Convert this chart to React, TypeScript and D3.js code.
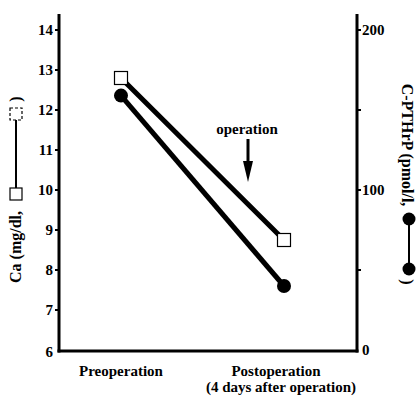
import React from "react";
import * as d3 from "d3";

const categories = ["Preoperation", "Postoperation"];
const caValues = [12.8, 8.75];
const pthrpValues = [159, 40];
const caTicks = [6, 7, 8, 9, 10, 11, 12, 13, 14];
const pthrpTicks = [0, 50, 100, 150, 200];
const pthrpLabeled = [0, 100, 200];

export default function App() {
  const W = 417, H = 397;
  const xL = 59, xR = 357, yB = 351, yT = 14;
  const x = d3.scalePoint<string>().domain(categories).range([121, 284]);
  const yCa = d3.scaleLinear().domain([6, 14]).range([350, 30]);
  const yP = d3.scaleLinear().domain([0, 200]).range([350, 30]);
  const font = "'Liberation Serif', 'DejaVu Serif', serif";
  const fs = 15;
  const line = d3.line<[number, number]>();
  const caPts: [number, number][] = categories.map((c, i) => [x(c)!, yCa(caValues[i])]);
  const pPts: [number, number][] = categories.map((c, i) => [x(c)!, yP(pthrpValues[i])]);
  return (
    <svg width={W} height={H} style={{ position: "absolute", left: 0, top: 0 }} fontFamily={font}>
      <rect width={W} height={H} fill="#fff" />
      {/* axes */}
      <line x1={xL} x2={xL} y1={yT} y2={yB + 1.5} stroke="#000" strokeWidth={3} />
      <line x1={xR} x2={xR} y1={yT} y2={yB + 1.5} stroke="#000" strokeWidth={3} />
      <line x1={xL - 1.5} x2={xR + 1.5} y1={yB} y2={yB} stroke="#000" strokeWidth={3} />
      {caTicks.map((t) => (
        <g key={t}>
          {t !== 6 && <line x1={xL - 4} x2={xL} y1={yCa(t)} y2={yCa(t)} stroke="#000" strokeWidth={2} />}
          <text x={xL - 6} y={yCa(t) + (t === 6 ? 7 : 5)} textAnchor="end" fontSize={fs} fontWeight="bold">{t}</text>
        </g>
      ))}
      {pthrpTicks.map((t) => (
        <g key={t}>
          {t !== 0 && <line x1={xR} x2={xR + 4} y1={yP(t)} y2={yP(t)} stroke="#000" strokeWidth={2} />}
          {pthrpLabeled.includes(t) && (
            <text x={xR + 5} y={yP(t) + 5} fontSize={fs} fontWeight="bold">{t}</text>
          )}
        </g>
      ))}
      {/* series lines */}
      <path d={line(caPts)!} stroke="#000" strokeWidth={5} fill="none" />
      <path d={line(pPts)!} stroke="#000" strokeWidth={5} fill="none" />
      {pPts.map((p, i) => (
        <circle key={i} cx={p[0]} cy={p[1]} r={7} fill="#000" />
      ))}
      {caPts.map((p, i) => (
        <rect key={i} x={p[0] - 6.5} y={p[1] - 6.5} width={13} height={13} fill="#fff" stroke="#000" strokeWidth={1.2} />
      ))}
      {/* category labels */}
      <text x={x(categories[0])} y={376} textAnchor="middle" fontSize={fs} fontWeight="bold">Preoperation</text>
      <text x={x(categories[1])! - 8} y={376} textAnchor="middle" fontSize={fs} fontWeight="bold">Postoperation</text>
      <text x={x(categories[1])! - 3} y={392} textAnchor="middle" fontSize={fs} fontWeight="bold">(4 days after operation)</text>
      {/* annotation */}
      <text x={247} y={134} textAnchor="middle" fontSize={fs} fontWeight="bold">operation</text>
      <line x1={248} x2={248} y1={139} y2={164} stroke="#000" strokeWidth={3} />
      <path d="M243,161 L253,161 L248,182 Z" fill="#000" />
      {/* left axis title */}
      <g transform="translate(21,0)">
        <text transform="rotate(-90)" x={-247} y={0} textAnchor="middle" fontSize={16} fontWeight="bold">Ca (mg/dl,</text>
        <line x1={-5} x2={-5} y1={117} y2={189} stroke="#000" strokeWidth={2} />
        <rect x={-11} y={188} width={12} height={12} fill="#fff" stroke="#000" strokeWidth={1.2} />
        <rect x={-11} y={108} width={12} height={12} fill="#fff" stroke="#000" strokeWidth={1.2} strokeDasharray="3,2" />
        <text transform="rotate(-90)" x={-99} y={0} textAnchor="middle" fontSize={16} fontWeight="bold">)</text>
      </g>
      {/* right axis title */}
      <g transform="translate(402,0)">
        <text transform="rotate(90)" x={145} y={0} textAnchor="middle" fontSize={16} fontWeight="bold">C-PTHrP (pmol/l,</text>
        <line x1={7} x2={7} y1={219} y2={269} stroke="#000" strokeWidth={2} />
        <circle cx={7} cy={219} r={6.5} fill="#000" />
        <circle cx={7} cy={269} r={6.5} fill="#000" />
        <text transform="rotate(90)" x={282} y={0} textAnchor="middle" fontSize={16} fontWeight="bold">)</text>
      </g>
    </svg>
  );
}
